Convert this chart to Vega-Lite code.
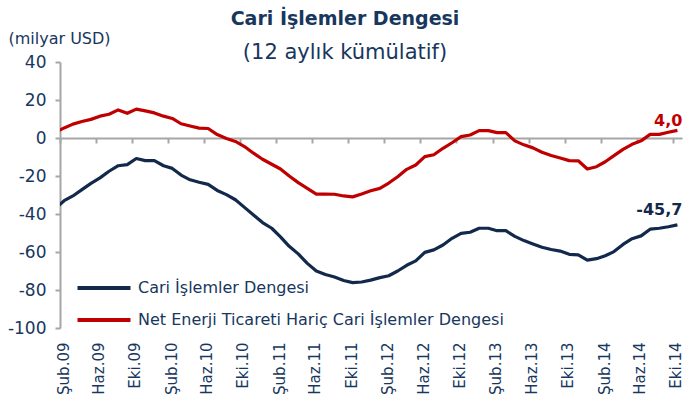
{
  "$schema": "https://vega.github.io/schema/vega-lite/v6.json",
  "width": 622,
  "height": 266,
  "autosize": {"type": "none"},
  "padding": {"left": 60, "top": 62, "right": 2, "bottom": 78},
  "background": "white",
  "config": {
    "view": {"stroke": null},
    "font": "DejaVu Sans",
    "axisY": {"labelOverlap": false},
    "locale": {"number": {"decimal": ",", "thousands": ".", "grouping": [3], "currency": ["", ""], "minus": "-"}}
  },
  "title": {
    "text": "Cari İşlemler Dengesi",
    "subtitle": "(12 aylık kümülatif)",
    "anchor": "middle",
    "frame": "group",
    "dx": -26,
    "offset": -33,
    "fontSize": 19,
    "fontWeight": "bold",
    "color": "#17375E",
    "subtitleFontSize": 21,
    "subtitleColor": "#17375E",
    "subtitlePadding": 13
  },
  "data": {
    "values": [
      {"ay": "2009-01", "cari": -37.0, "haric": 3.0},
      {"ay": "2009-02", "cari": -33.0, "haric": 5.3},
      {"ay": "2009-03", "cari": -30.5, "haric": 7.3},
      {"ay": "2009-04", "cari": -27.2, "haric": 8.7},
      {"ay": "2009-05", "cari": -23.9, "haric": 9.8},
      {"ay": "2009-06", "cari": -21.0, "haric": 11.5},
      {"ay": "2009-07", "cari": -17.5, "haric": 12.5},
      {"ay": "2009-08", "cari": -14.6, "haric": 14.8},
      {"ay": "2009-09", "cari": -14.0, "haric": 13.0},
      {"ay": "2009-10", "cari": -10.8, "haric": 15.2},
      {"ay": "2009-11", "cari": -11.9, "haric": 14.3},
      {"ay": "2009-12", "cari": -11.9, "haric": 13.2},
      {"ay": "2010-01", "cari": -14.6, "haric": 11.5},
      {"ay": "2010-02", "cari": -16.0, "haric": 10.3},
      {"ay": "2010-03", "cari": -19.5, "haric": 7.5},
      {"ay": "2010-04", "cari": -22.0, "haric": 6.3},
      {"ay": "2010-05", "cari": -23.3, "haric": 5.2},
      {"ay": "2010-06", "cari": -24.4, "haric": 5.0},
      {"ay": "2010-07", "cari": -27.6, "haric": 1.8},
      {"ay": "2010-08", "cari": -29.8, "haric": -0.3},
      {"ay": "2010-09", "cari": -32.5, "haric": -1.8},
      {"ay": "2010-10", "cari": -36.5, "haric": -4.5},
      {"ay": "2010-11", "cari": -40.5, "haric": -8.0},
      {"ay": "2010-12", "cari": -44.5, "haric": -11.2},
      {"ay": "2011-01", "cari": -47.5, "haric": -13.8},
      {"ay": "2011-02", "cari": -52.0, "haric": -16.3},
      {"ay": "2011-03", "cari": -57.0, "haric": -20.0},
      {"ay": "2011-04", "cari": -61.0, "haric": -23.5},
      {"ay": "2011-05", "cari": -66.0, "haric": -26.5},
      {"ay": "2011-06", "cari": -70.0, "haric": -29.5},
      {"ay": "2011-07", "cari": -71.8, "haric": -29.5},
      {"ay": "2011-08", "cari": -73.2, "haric": -29.6},
      {"ay": "2011-09", "cari": -75.0, "haric": -30.5},
      {"ay": "2011-10", "cari": -76.1, "haric": -31.0},
      {"ay": "2011-11", "cari": -75.8, "haric": -29.5},
      {"ay": "2011-12", "cari": -74.8, "haric": -27.8},
      {"ay": "2012-01", "cari": -73.5, "haric": -26.5},
      {"ay": "2012-02", "cari": -72.5, "haric": -23.7},
      {"ay": "2012-03", "cari": -70.0, "haric": -20.4},
      {"ay": "2012-04", "cari": -67.0, "haric": -16.5},
      {"ay": "2012-05", "cari": -64.7, "haric": -14.2},
      {"ay": "2012-06", "cari": -60.2, "haric": -9.8},
      {"ay": "2012-07", "cari": -58.9, "haric": -8.8},
      {"ay": "2012-08", "cari": -56.3, "haric": -5.4},
      {"ay": "2012-09", "cari": -52.8, "haric": -2.5},
      {"ay": "2012-10", "cari": -50.2, "haric": 0.7},
      {"ay": "2012-11", "cari": -49.6, "haric": 1.6},
      {"ay": "2012-12", "cari": -47.5, "haric": 3.9},
      {"ay": "2013-01", "cari": -47.5, "haric": 3.9},
      {"ay": "2013-02", "cari": -48.8, "haric": 2.8},
      {"ay": "2013-03", "cari": -48.8, "haric": 2.8},
      {"ay": "2013-04", "cari": -51.8, "haric": -1.5},
      {"ay": "2013-05", "cari": -54.0, "haric": -3.6},
      {"ay": "2013-06", "cari": -55.8, "haric": -5.2},
      {"ay": "2013-07", "cari": -57.5, "haric": -7.5},
      {"ay": "2013-08", "cari": -58.7, "haric": -9.2},
      {"ay": "2013-09", "cari": -59.5, "haric": -10.5},
      {"ay": "2013-10", "cari": -61.2, "haric": -11.9},
      {"ay": "2013-11", "cari": -61.5, "haric": -12.0},
      {"ay": "2013-12", "cari": -64.3, "haric": -16.3},
      {"ay": "2014-01", "cari": -63.5, "haric": -15.1},
      {"ay": "2014-02", "cari": -62.0, "haric": -12.5},
      {"ay": "2014-03", "cari": -59.8, "haric": -9.3},
      {"ay": "2014-04", "cari": -56.0, "haric": -6.0},
      {"ay": "2014-05", "cari": -53.0, "haric": -3.3},
      {"ay": "2014-06", "cari": -51.5, "haric": -1.5},
      {"ay": "2014-07", "cari": -48.0, "haric": 1.9},
      {"ay": "2014-08", "cari": -47.5, "haric": 1.9},
      {"ay": "2014-09", "cari": -46.7, "haric": 3.0},
      {"ay": "2014-10", "cari": -45.7, "haric": 4.0}
    ]
  },
  "transform": [{"fold": ["cari", "haric"], "as": ["seri", "deger"]}],
  "encoding": {
    "x": {
      "field": "ay",
      "timeUnit": "utcyearmonth",
      "type": "temporal",
      "bandPosition": 0.5,
      "scale": {"domain": [{"year": 2009, "month": 2, "date": 1, "utc": true}, {"year": 2014, "month": 11, "date": 1, "utc": true}]},
      "axis": {
        "title": null,
        "orient": "bottom",
        "offset": -190,
        "grid": false,
        "domainColor": "#A6A6A6",
        "domainWidth": 2,
        "tickColor": "#A6A6A6",
        "tickWidth": 2,
        "tickSize": 5,
        "values": [
          {"year": 2009, "month": 2, "date": 1, "utc": true},
          {"year": 2009, "month": 6, "date": 1, "utc": true},
          {"year": 2009, "month": 10, "date": 1, "utc": true},
          {"year": 2010, "month": 2, "date": 1, "utc": true},
          {"year": 2010, "month": 6, "date": 1, "utc": true},
          {"year": 2010, "month": 10, "date": 1, "utc": true},
          {"year": 2011, "month": 2, "date": 1, "utc": true},
          {"year": 2011, "month": 6, "date": 1, "utc": true},
          {"year": 2011, "month": 10, "date": 1, "utc": true},
          {"year": 2012, "month": 2, "date": 1, "utc": true},
          {"year": 2012, "month": 6, "date": 1, "utc": true},
          {"year": 2012, "month": 10, "date": 1, "utc": true},
          {"year": 2013, "month": 2, "date": 1, "utc": true},
          {"year": 2013, "month": 6, "date": 1, "utc": true},
          {"year": 2013, "month": 10, "date": 1, "utc": true},
          {"year": 2014, "month": 2, "date": 1, "utc": true},
          {"year": 2014, "month": 6, "date": 1, "utc": true},
          {"year": 2014, "month": 10, "date": 1, "utc": true}
        ],
        "labelExpr": "['Oca','Şub','Mar','Nis','May','Haz','Tem','Ağu','Eyl','Eki','Kas','Ara'][utcmonth(datum.value)] + '.' + utcFormat(datum.value, '%y')",
        "labelAngle": -90,
        "labelAlign": "right",
        "labelBaseline": "middle",
        "labelPadding": 199,
        "labelOffset": 3,
        "labelFontSize": 15,
        "labelColor": "#17375E",
        "labelOverlap": false,
        "labelFlush": false
      }
    },
    "y": {
      "field": "deger",
      "type": "quantitative",
      "scale": {"domain": [-100, 40], "nice": false, "zero": false},
      "axis": {
        "values": [-100, -80, -60, -40, -20, 0, 20, 40],
        "grid": false,
        "labelOverlap": false,
        "labelFlush": false,
        "labelBound": false,
        "domainColor": "#A6A6A6",
        "domainWidth": 2,
        "tickColor": "#A6A6A6",
        "tickWidth": 2,
        "tickSize": 5,
        "labelFontSize": 17,
        "labelColor": "#17375E",
        "labelPadding": 9,
        "title": "(milyar USD)",
        "titleAngle": 0,
        "titleAlign": "left",
        "titleBaseline": "middle",
        "titleX": -52,
        "titleY": -24,
        "titleFontSize": 16,
        "titleFontWeight": "normal",
        "titleColor": "#17375E"
      }
    }
  },
  "layer": [
    {
      "mark": {"type": "line", "clip": true, "strokeWidth": 3.2, "strokeJoin": "round"},
      "encoding": {
        "color": {
          "field": "seri",
          "type": "nominal",
          "scale": {"domain": ["cari", "haric"], "range": ["#13294B", "#C00000"]},
          "legend": {
            "title": null,
            "orient": "none",
            "direction": "vertical",
            "legendX": 33,
            "legendY": 215,
            "padding": 0,
            "symbolType": "M-3,0H3",
            "symbolSize": 312,
            "symbolStrokeWidth": 4,
            "labelOffset": 23,
            "rowPadding": 13,
            "labelFontSize": 16,
            "labelColor": "#17375E",
            "labelLimit": 600,
            "labelExpr": "datum.label == 'cari' ? 'Cari İşlemler Dengesi' : 'Net Enerji Ticareti Hariç Cari İşlemler Dengesi'"
          }
        }
      }
    },
    {
      "transform": [
        {"filter": {"field": "seri", "equal": "cari"}},
        {"filter": {"field": "ay", "timeUnit": "utcyearmonth", "equal": {"year": 2014, "month": 10, "utc": true}}}
      ],
      "mark": {"type": "text", "align": "right", "baseline": "middle", "dx": 5, "dy": -15, "fontSize": 16, "fontWeight": "bold", "color": "#13294B"},
      "encoding": {
        "text": {"field": "deger", "type": "quantitative", "format": ".1f"}
      }
    },
    {
      "transform": [
        {"filter": {"field": "seri", "equal": "haric"}},
        {"filter": {"field": "ay", "timeUnit": "utcyearmonth", "equal": {"year": 2014, "month": 10, "utc": true}}}
      ],
      "mark": {"type": "text", "align": "right", "baseline": "middle", "dx": 5, "dy": -9, "fontSize": 16, "fontWeight": "bold", "color": "#C00000"},
      "encoding": {
        "text": {"field": "deger", "type": "quantitative", "format": ".1f"}
      }
    }
  ]
}
